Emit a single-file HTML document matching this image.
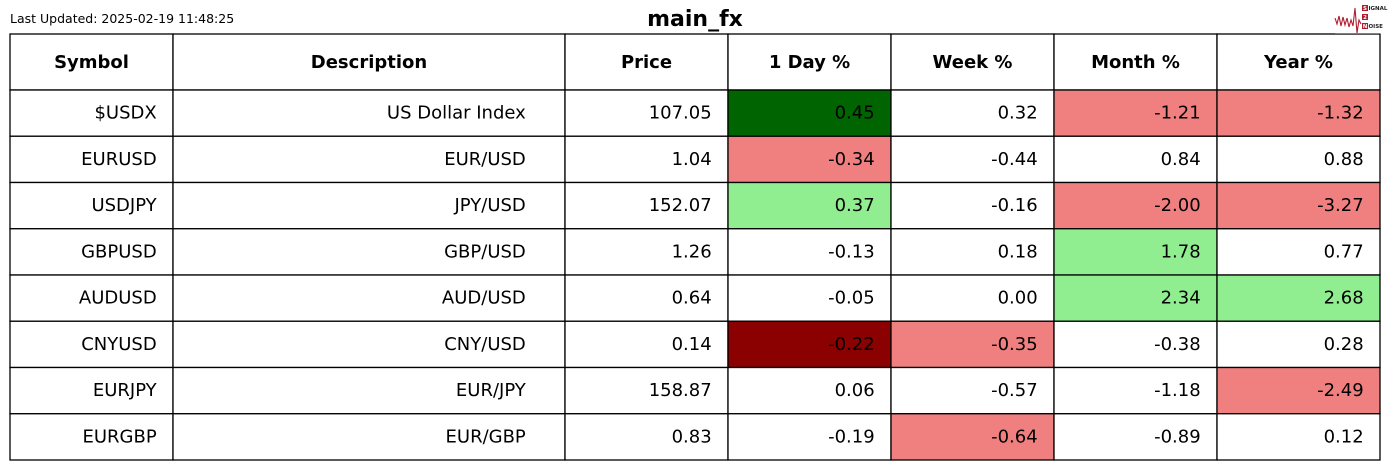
<!DOCTYPE html>
<html><head><meta charset="utf-8"><style>
html,body{margin:0;padding:0;background:#fff;}
svg{display:block;}
text{font-family:"DejaVu Sans","Liberation Sans",sans-serif;fill:#000;}
.h{font-weight:bold;font-size:18px;text-anchor:middle;}
.d{font-size:18px;text-anchor:end;}
</style></head><body>
<svg width="1390" height="470" viewBox="0 0 1390 470" xmlns="http://www.w3.org/2000/svg">
<rect width="1390" height="470" fill="#fff"/>
<text x="10" y="23" style="font-size:12.5px">Last Updated: 2025-02-19 11:48:25</text>
<text x="695" y="26" style="font-size:22px;font-weight:bold;text-anchor:middle">main_fx</text>
<g stroke="#000" stroke-width="1.3">
<rect x="10" y="34" width="163" height="56" fill="#fff"/>
<rect x="173" y="34" width="392" height="56" fill="#fff"/>
<rect x="565" y="34" width="163" height="56" fill="#fff"/>
<rect x="728" y="34" width="163" height="56" fill="#fff"/>
<rect x="891" y="34" width="163" height="56" fill="#fff"/>
<rect x="1054" y="34" width="163" height="56" fill="#fff"/>
<rect x="1217" y="34" width="163" height="56" fill="#fff"/>
<rect x="10" y="90" width="163" height="46.25" fill="#fff"/>
<rect x="173" y="90" width="392" height="46.25" fill="#fff"/>
<rect x="565" y="90" width="163" height="46.25" fill="#fff"/>
<rect x="728" y="90" width="163" height="46.25" fill="#006400"/>
<rect x="891" y="90" width="163" height="46.25" fill="#fff"/>
<rect x="1054" y="90" width="163" height="46.25" fill="#f08080"/>
<rect x="1217" y="90" width="163" height="46.25" fill="#f08080"/>
<rect x="10" y="136.25" width="163" height="46.25" fill="#fff"/>
<rect x="173" y="136.25" width="392" height="46.25" fill="#fff"/>
<rect x="565" y="136.25" width="163" height="46.25" fill="#fff"/>
<rect x="728" y="136.25" width="163" height="46.25" fill="#f08080"/>
<rect x="891" y="136.25" width="163" height="46.25" fill="#fff"/>
<rect x="1054" y="136.25" width="163" height="46.25" fill="#fff"/>
<rect x="1217" y="136.25" width="163" height="46.25" fill="#fff"/>
<rect x="10" y="182.5" width="163" height="46.25" fill="#fff"/>
<rect x="173" y="182.5" width="392" height="46.25" fill="#fff"/>
<rect x="565" y="182.5" width="163" height="46.25" fill="#fff"/>
<rect x="728" y="182.5" width="163" height="46.25" fill="#90ee90"/>
<rect x="891" y="182.5" width="163" height="46.25" fill="#fff"/>
<rect x="1054" y="182.5" width="163" height="46.25" fill="#f08080"/>
<rect x="1217" y="182.5" width="163" height="46.25" fill="#f08080"/>
<rect x="10" y="228.75" width="163" height="46.25" fill="#fff"/>
<rect x="173" y="228.75" width="392" height="46.25" fill="#fff"/>
<rect x="565" y="228.75" width="163" height="46.25" fill="#fff"/>
<rect x="728" y="228.75" width="163" height="46.25" fill="#fff"/>
<rect x="891" y="228.75" width="163" height="46.25" fill="#fff"/>
<rect x="1054" y="228.75" width="163" height="46.25" fill="#90ee90"/>
<rect x="1217" y="228.75" width="163" height="46.25" fill="#fff"/>
<rect x="10" y="275" width="163" height="46.25" fill="#fff"/>
<rect x="173" y="275" width="392" height="46.25" fill="#fff"/>
<rect x="565" y="275" width="163" height="46.25" fill="#fff"/>
<rect x="728" y="275" width="163" height="46.25" fill="#fff"/>
<rect x="891" y="275" width="163" height="46.25" fill="#fff"/>
<rect x="1054" y="275" width="163" height="46.25" fill="#90ee90"/>
<rect x="1217" y="275" width="163" height="46.25" fill="#90ee90"/>
<rect x="10" y="321.25" width="163" height="46.25" fill="#fff"/>
<rect x="173" y="321.25" width="392" height="46.25" fill="#fff"/>
<rect x="565" y="321.25" width="163" height="46.25" fill="#fff"/>
<rect x="728" y="321.25" width="163" height="46.25" fill="#8b0000"/>
<rect x="891" y="321.25" width="163" height="46.25" fill="#f08080"/>
<rect x="1054" y="321.25" width="163" height="46.25" fill="#fff"/>
<rect x="1217" y="321.25" width="163" height="46.25" fill="#fff"/>
<rect x="10" y="367.5" width="163" height="46.25" fill="#fff"/>
<rect x="173" y="367.5" width="392" height="46.25" fill="#fff"/>
<rect x="565" y="367.5" width="163" height="46.25" fill="#fff"/>
<rect x="728" y="367.5" width="163" height="46.25" fill="#fff"/>
<rect x="891" y="367.5" width="163" height="46.25" fill="#fff"/>
<rect x="1054" y="367.5" width="163" height="46.25" fill="#fff"/>
<rect x="1217" y="367.5" width="163" height="46.25" fill="#f08080"/>
<rect x="10" y="413.75" width="163" height="46.25" fill="#fff"/>
<rect x="173" y="413.75" width="392" height="46.25" fill="#fff"/>
<rect x="565" y="413.75" width="163" height="46.25" fill="#fff"/>
<rect x="728" y="413.75" width="163" height="46.25" fill="#fff"/>
<rect x="891" y="413.75" width="163" height="46.25" fill="#f08080"/>
<rect x="1054" y="413.75" width="163" height="46.25" fill="#fff"/>
<rect x="1217" y="413.75" width="163" height="46.25" fill="#fff"/>
</g>
<text class="h" x="91.5" y="68">Symbol</text>
<text class="h" x="369" y="68">Description</text>
<text class="h" x="646.5" y="68">Price</text>
<text class="h" x="809.5" y="68">1 Day %</text>
<text class="h" x="972.5" y="68">Week %</text>
<text class="h" x="1135.5" y="68">Month %</text>
<text class="h" x="1298.5" y="68">Year %</text>
<g>
<text class="d" x="156.7" y="118.7">$USDX</text>
<text class="d" x="525.8" y="118.7">US Dollar Index</text>
<text class="d" x="711.7" y="118.7">107.05</text>
<text class="d" x="874.7" y="118.7">0.45</text>
<text class="d" x="1037.7" y="118.7">0.32</text>
<text class="d" x="1200.7" y="118.7">-1.21</text>
<text class="d" x="1363.7" y="118.7">-1.32</text>

<text class="d" x="156.7" y="165">EURUSD</text>
<text class="d" x="525.8" y="165">EUR/USD</text>
<text class="d" x="711.7" y="165">1.04</text>
<text class="d" x="874.7" y="165">-0.34</text>
<text class="d" x="1037.7" y="165">-0.44</text>
<text class="d" x="1200.7" y="165">0.84</text>
<text class="d" x="1363.7" y="165">0.88</text>

<text class="d" x="156.7" y="211.2">USDJPY</text>
<text class="d" x="525.8" y="211.2">JPY/USD</text>
<text class="d" x="711.7" y="211.2">152.07</text>
<text class="d" x="874.7" y="211.2">0.37</text>
<text class="d" x="1037.7" y="211.2">-0.16</text>
<text class="d" x="1200.7" y="211.2">-2.00</text>
<text class="d" x="1363.7" y="211.2">-3.27</text>

<text class="d" x="156.7" y="257.5">GBPUSD</text>
<text class="d" x="525.8" y="257.5">GBP/USD</text>
<text class="d" x="711.7" y="257.5">1.26</text>
<text class="d" x="874.7" y="257.5">-0.13</text>
<text class="d" x="1037.7" y="257.5">0.18</text>
<text class="d" x="1200.7" y="257.5">1.78</text>
<text class="d" x="1363.7" y="257.5">0.77</text>

<text class="d" x="156.7" y="303.7">AUDUSD</text>
<text class="d" x="525.8" y="303.7">AUD/USD</text>
<text class="d" x="711.7" y="303.7">0.64</text>
<text class="d" x="874.7" y="303.7">-0.05</text>
<text class="d" x="1037.7" y="303.7">0.00</text>
<text class="d" x="1200.7" y="303.7">2.34</text>
<text class="d" x="1363.7" y="303.7">2.68</text>

<text class="d" x="156.7" y="350">CNYUSD</text>
<text class="d" x="525.8" y="350">CNY/USD</text>
<text class="d" x="711.7" y="350">0.14</text>
<text class="d" x="874.7" y="350">-0.22</text>
<text class="d" x="1037.7" y="350">-0.35</text>
<text class="d" x="1200.7" y="350">-0.38</text>
<text class="d" x="1363.7" y="350">0.28</text>

<text class="d" x="156.7" y="396.2">EURJPY</text>
<text class="d" x="525.8" y="396.2">EUR/JPY</text>
<text class="d" x="711.7" y="396.2">158.87</text>
<text class="d" x="874.7" y="396.2">0.06</text>
<text class="d" x="1037.7" y="396.2">-0.57</text>
<text class="d" x="1200.7" y="396.2">-1.18</text>
<text class="d" x="1363.7" y="396.2">-2.49</text>

<text class="d" x="156.7" y="442.5">EURGBP</text>
<text class="d" x="525.8" y="442.5">EUR/GBP</text>
<text class="d" x="711.7" y="442.5">0.83</text>
<text class="d" x="874.7" y="442.5">-0.19</text>
<text class="d" x="1037.7" y="442.5">-0.64</text>
<text class="d" x="1200.7" y="442.5">-0.89</text>
<text class="d" x="1363.7" y="442.5">0.12</text>
</g>
<rect x="1335" y="0" width="50" height="33.5" fill="#fff"/>
<polyline points="1335,18 1337,24 1339,16 1341,26 1343,17 1345,25 1347,18 1349,27 1351,20 1353,26 1355,8 1357,33 1359,20 1361,24" fill="none" stroke="#b01c2e" stroke-width="1.1"/>
<rect x="1362" y="5" width="6" height="6" fill="#b01c2e"/>
<rect x="1362" y="14" width="6" height="6" fill="#b01c2e"/>
<rect x="1362" y="23" width="6" height="6" fill="#b01c2e"/>
<text x="1365" y="10" style="font-size:5.5px;font-weight:bold;fill:#fff;text-anchor:middle">S</text>
<text x="1365" y="19" style="font-size:5.5px;font-weight:bold;fill:#fff;text-anchor:middle">2</text>
<text x="1365" y="28" style="font-size:5.5px;font-weight:bold;fill:#fff;text-anchor:middle">N</text>
<text x="1368.5" y="10" style="font-size:5.5px;font-weight:bold;fill:#222">IGNAL</text>
<text x="1368.5" y="28" style="font-size:5.5px;font-weight:bold;fill:#222">OISE</text>
</svg>
</body></html>
